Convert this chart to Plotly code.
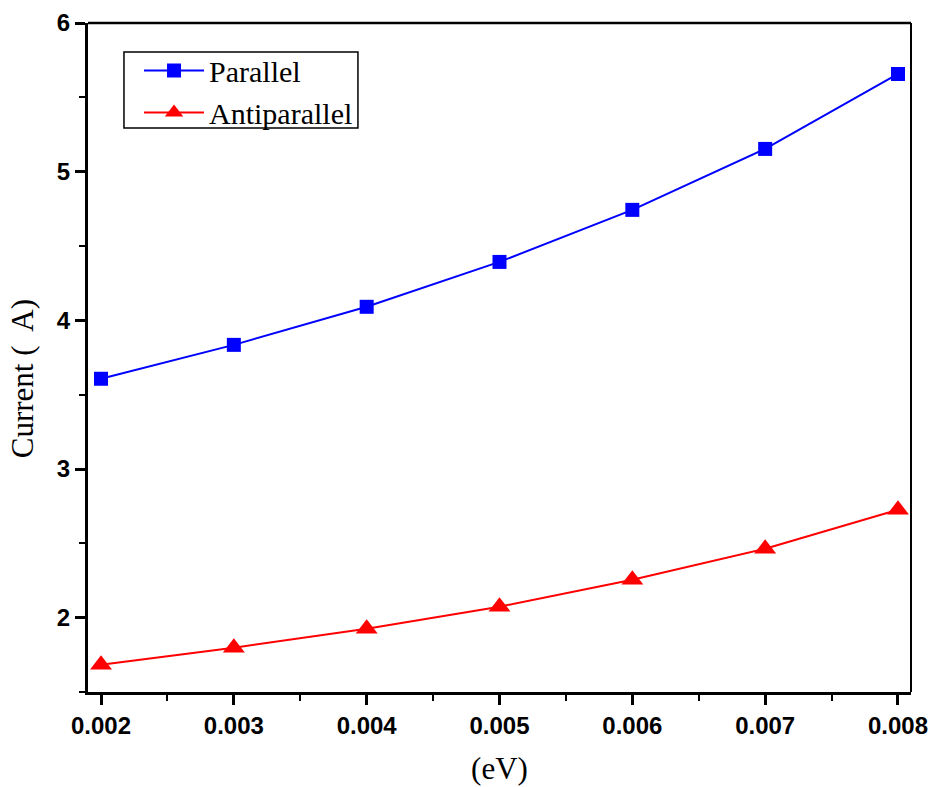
import plotly.graph_objects as go

energy = [0.002, 0.003, 0.004, 0.005, 0.006, 0.007, 0.008]
parallel = [3.607, 3.835, 4.091, 4.393, 4.743, 5.153, 5.657]
antiparallel = [1.684, 1.798, 1.926, 2.074, 2.255, 2.464, 2.726]
x_ticks = [0.002, 0.003, 0.004, 0.005, 0.006, 0.007, 0.008]
x_labels = ["0.002", "0.003", "0.004", "0.005", "0.006", "0.007", "0.008"]
y_ticks = [2, 3, 4, 5, 6]
y_title = "Current (  A)"

fig = go.Figure()
fig.add_trace(go.Scatter(x=energy, y=parallel, name="Parallel", mode="lines+markers",
                         line=dict(color="#0000ff", width=2),
                         marker=dict(symbol="square", size=14, color="#0000ff")))
fig.add_trace(go.Scatter(x=energy, y=antiparallel, name="Antiparallel", mode="lines+markers",
                         line=dict(color="#ff0000", width=2),
                         marker=dict(symbol="triangle-up", size=19, color="#ff0000")))

tickfont = dict(family="Liberation Sans", size=24, color="black", weight="bold")
titlefont = dict(family="Liberation Serif", size=31, color="black")
fig.update_layout(
    width=933, height=787,
    margin=dict(l=88, r=22, t=23, b=95),
    plot_bgcolor="white", paper_bgcolor="white",
    showlegend=True,
    legend=dict(x=0.062, y=0.968, xanchor="left", yanchor="top",
                borderwidth=0, bgcolor="rgba(0,0,0,0)",
                font=dict(family="Liberation Serif", size=30, color="black"),
                tracegroupgap=0, itemwidth=60),
    xaxis=dict(range=[0.001902, 0.008098], tickvals=x_ticks, ticktext=x_labels,
               automargin=False,
               showgrid=False, zeroline=False, showline=True, linecolor="black", linewidth=3,
               ticks="outside", ticklen=10, tickwidth=3, tickcolor="black",
               minor=dict(ticks="outside", ticklen=6, tickwidth=2, tickcolor="black", dtick=0.0005, showgrid=False),
               tickfont=tickfont,
               title=dict(text="(eV)", font=titlefont, standoff=20)),
    yaxis=dict(range=[1.5, 6], tickvals=y_ticks,
               automargin=False,
               showgrid=False, zeroline=False, showline=True, linecolor="black", linewidth=3,
               ticks="outside", ticklen=10, tickwidth=3, tickcolor="black",
               minor=dict(ticks="outside", ticklen=6, tickwidth=2, tickcolor="black", dtick=0.5, showgrid=False),
               tickfont=tickfont),
)
fig.add_annotation(text=y_title, xref="paper", yref="paper", x=-0.0802, y=0.469,
                   xanchor="center", yanchor="middle", textangle=-90, showarrow=False,
                   font=titlefont)
fig.add_shape(type="rect", xref="paper", yref="paper", x0=0.0437, x1=0.328, y0=0.843, y1=0.9567,
              line=dict(color="black", width=1.5), fillcolor="rgba(0,0,0,0)", layer="below")
fig.add_shape(type="line", xref="paper", yref="paper", x0=0, x1=1, y0=1, y1=1,
              line=dict(color="black", width=2.5))
fig.add_shape(type="line", xref="paper", yref="paper", x0=1, x1=1, y0=0, y1=1,
              line=dict(color="black", width=2))

fig.write_html("out.html")
